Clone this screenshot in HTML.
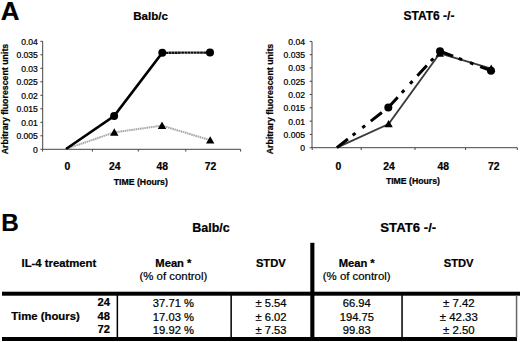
<!DOCTYPE html>
<html><head><meta charset="utf-8"><title>Figure</title>
<style>
html,body{margin:0;padding:0;background:#fff;}
body{width:520px;height:342px;overflow:hidden;}
svg{display:block;font-family:"Liberation Sans", sans-serif;}
text{stroke:#000;stroke-width:0.22px;}
</style></head>
<body>
<svg width="520" height="342" viewBox="0 0 520 342" fill="#000">
<text x="0" y="0" font-size="25.2" font-weight="bold" text-anchor="start" transform="translate(0.7 20.0) scale(1.03 1)">A</text>
<text x="1.3" y="231.4" font-size="24.3" font-weight="bold" text-anchor="start" >B</text>
<path d="M42.7 41.3V149.3H240.6" fill="none" stroke="#444" stroke-width="1"/>
<path d="M40.400000000000006 149.30H42.7" stroke="#444" stroke-width="1"/>
<text x="37.9" y="152.80" font-size="8.6" font-weight="normal" text-anchor="end" >0</text>
<path d="M40.400000000000006 135.80H42.7" stroke="#444" stroke-width="1"/>
<text x="37.9" y="139.30" font-size="8.6" font-weight="normal" text-anchor="end" >0.005</text>
<path d="M40.400000000000006 122.30H42.7" stroke="#444" stroke-width="1"/>
<text x="37.9" y="125.80" font-size="8.6" font-weight="normal" text-anchor="end" >0.01</text>
<path d="M40.400000000000006 108.80H42.7" stroke="#444" stroke-width="1"/>
<text x="37.9" y="112.30" font-size="8.6" font-weight="normal" text-anchor="end" >0.015</text>
<path d="M40.400000000000006 95.30H42.7" stroke="#444" stroke-width="1"/>
<text x="37.9" y="98.80" font-size="8.6" font-weight="normal" text-anchor="end" >0.02</text>
<path d="M40.400000000000006 81.80H42.7" stroke="#444" stroke-width="1"/>
<text x="37.9" y="85.30" font-size="8.6" font-weight="normal" text-anchor="end" >0.025</text>
<path d="M40.400000000000006 68.30H42.7" stroke="#444" stroke-width="1"/>
<text x="37.9" y="71.80" font-size="8.6" font-weight="normal" text-anchor="end" >0.03</text>
<path d="M40.400000000000006 54.80H42.7" stroke="#444" stroke-width="1"/>
<text x="37.9" y="58.30" font-size="8.6" font-weight="normal" text-anchor="end" >0.035</text>
<path d="M40.400000000000006 41.30H42.7" stroke="#444" stroke-width="1"/>
<text x="37.9" y="44.80" font-size="8.6" font-weight="normal" text-anchor="end" >0.04</text>
<path d="M42.6 149.3V151.60000000000002" stroke="#444" stroke-width="1"/>
<path d="M92.4 149.3V151.60000000000002" stroke="#444" stroke-width="1"/>
<path d="M138.3 149.3V151.60000000000002" stroke="#444" stroke-width="1"/>
<path d="M185.8 149.3V151.60000000000002" stroke="#444" stroke-width="1"/>
<path d="M240.6 149.3V151.60000000000002" stroke="#444" stroke-width="1"/>
<text x="67.3" y="169.6" font-size="10.4" font-weight="bold" text-anchor="middle" >0</text>
<text x="114.8" y="169.6" font-size="10.4" font-weight="bold" text-anchor="middle" >24</text>
<text x="162.2" y="169.6" font-size="10.4" font-weight="bold" text-anchor="middle" >48</text>
<text x="210.5" y="169.6" font-size="10.4" font-weight="bold" text-anchor="middle" >72</text>
<text transform="translate(7.8 99.0) rotate(-90)" font-size="8.8" font-weight="bold" text-anchor="middle">Arbitrary fluorescent units</text>
<path d="M312.0 41.4V147.7H517.3" fill="none" stroke="#444" stroke-width="1"/>
<path d="M309.7 147.70H312.0" stroke="#444" stroke-width="1"/>
<text x="305.0" y="151.20" font-size="8.6" font-weight="normal" text-anchor="end" >0</text>
<path d="M309.7 134.41H312.0" stroke="#444" stroke-width="1"/>
<text x="305.0" y="137.91" font-size="8.6" font-weight="normal" text-anchor="end" >0.005</text>
<path d="M309.7 121.12H312.0" stroke="#444" stroke-width="1"/>
<text x="305.0" y="124.62" font-size="8.6" font-weight="normal" text-anchor="end" >0.01</text>
<path d="M309.7 107.84H312.0" stroke="#444" stroke-width="1"/>
<text x="305.0" y="111.34" font-size="8.6" font-weight="normal" text-anchor="end" >0.015</text>
<path d="M309.7 94.55H312.0" stroke="#444" stroke-width="1"/>
<text x="305.0" y="98.05" font-size="8.6" font-weight="normal" text-anchor="end" >0.02</text>
<path d="M309.7 81.26H312.0" stroke="#444" stroke-width="1"/>
<text x="305.0" y="84.76" font-size="8.6" font-weight="normal" text-anchor="end" >0.025</text>
<path d="M309.7 67.97H312.0" stroke="#444" stroke-width="1"/>
<text x="305.0" y="71.47" font-size="8.6" font-weight="normal" text-anchor="end" >0.03</text>
<path d="M309.7 54.69H312.0" stroke="#444" stroke-width="1"/>
<text x="305.0" y="58.19" font-size="8.6" font-weight="normal" text-anchor="end" >0.035</text>
<path d="M309.7 41.40H312.0" stroke="#444" stroke-width="1"/>
<text x="305.0" y="44.90" font-size="8.6" font-weight="normal" text-anchor="end" >0.04</text>
<path d="M312.2 147.7V150.0" stroke="#444" stroke-width="1"/>
<path d="M361.2 147.7V150.0" stroke="#444" stroke-width="1"/>
<path d="M415.0 147.7V150.0" stroke="#444" stroke-width="1"/>
<path d="M465.6 147.7V150.0" stroke="#444" stroke-width="1"/>
<path d="M517.3 147.7V150.0" stroke="#444" stroke-width="1"/>
<text x="338.3" y="169.6" font-size="10.4" font-weight="bold" text-anchor="middle" >0</text>
<text x="389.0" y="169.6" font-size="10.4" font-weight="bold" text-anchor="middle" >24</text>
<text x="443.2" y="169.6" font-size="10.4" font-weight="bold" text-anchor="middle" >48</text>
<text x="493.8" y="169.6" font-size="10.4" font-weight="bold" text-anchor="middle" >72</text>
<text transform="translate(273.0 99.0) rotate(-90)" font-size="8.8" font-weight="bold" text-anchor="middle">Arbitrary fluorescent units</text>
<text x="133.2" y="19.8" font-size="11.6" font-weight="bold" text-anchor="start" >Balb/c</text>
<text x="403.5" y="20.2" font-size="12" font-weight="bold" text-anchor="start" >STAT6 -/-</text>
<text x="113.8" y="184.5" font-size="8.7" font-weight="bold" text-anchor="start" >TIME (Hours)</text>
<text x="385.9" y="184.4" font-size="8.7" font-weight="bold" text-anchor="start" >TIME (Hours)</text>
<polyline points="66.0,149.0 114.3,132.4 162.0,125.6 210.2,140.2" fill="none" stroke="#a8a8a8" stroke-width="2" stroke-dasharray="1.6 0.6"/>
<polyline points="66.0,149.0 114.1,116.0 162.3,52.8" fill="none" stroke="#000" stroke-width="2.7"/>
<line x1="162.3" y1="52.8" x2="210.0" y2="52.6" stroke="#111" stroke-width="2.3" stroke-dasharray="2.8 0.35"/>
<path d="M114.30 128.33L118.50 135.73H110.10Z" fill="#000"/>
<path d="M162.00 121.53L166.20 128.93H157.80Z" fill="#000"/>
<path d="M210.20 136.13L214.40 143.53H206.00Z" fill="#000"/>
<circle cx="114.1" cy="116.0" r="4.0" fill="#000"/>
<circle cx="162.3" cy="52.8" r="4.0" fill="#000"/>
<circle cx="210.0" cy="52.6" r="4.0" fill="#000"/>
<polyline points="336.9,147.6 388.6,124.0 439.8,53.3 491.2,68.6" fill="none" stroke="#3a3a3a" stroke-width="1.9"/>
<line x1="336.9" y1="147.6" x2="388.3" y2="107.5" stroke="#000" stroke-width="3" stroke-dasharray="14 6 3.6 8.6 3.6 7.2"/>
<line x1="388.3" y1="107.5" x2="440.0" y2="51.2" stroke="#000" stroke-width="3" stroke-dasharray="14 6 3.6 8.6 3.6 7.2"/>
<line x1="440.0" y1="51.2" x2="491.0" y2="70.7" stroke="#000" stroke-width="3" stroke-dasharray="14 6 3.6 8.6 3.6 7.2"/>
<path d="M388.60 119.93L392.80 127.33H384.40Z" fill="#000"/>
<path d="M439.80 49.23L444.00 56.63H435.60Z" fill="#000"/>
<path d="M491.20 64.53L495.40 71.93H487.00Z" fill="#000"/>
<circle cx="388.3" cy="107.5" r="4.0" fill="#000"/>
<circle cx="440.0" cy="51.2" r="4.0" fill="#000"/>
<circle cx="491.0" cy="70.7" r="4.0" fill="#000"/>
<text x="192.2" y="232.0" font-size="12.5" font-weight="bold" text-anchor="start" >Balb/c</text>
<text x="380.3" y="232.2" font-size="13.2" font-weight="bold" text-anchor="start" >STAT6 -/-</text>
<text x="21.5" y="267.0" font-size="11.3" font-weight="bold" text-anchor="start" >IL-4 treatment</text>
<text x="173.4" y="266.9" font-size="11.2" font-weight="bold" text-anchor="middle" >Mean *</text>
<text x="173.4" y="280.0" font-size="11.4" font-weight="normal" text-anchor="middle" >(% of control)</text>
<text x="356.7" y="266.9" font-size="11.2" font-weight="bold" text-anchor="middle" >Mean *</text>
<text x="356.7" y="280.0" font-size="11.4" font-weight="normal" text-anchor="middle" >(% of control)</text>
<text x="270.8" y="266.8" font-size="11.2" font-weight="bold" text-anchor="middle" >STDV</text>
<text x="458.6" y="266.8" font-size="11.2" font-weight="bold" text-anchor="middle" >STDV</text>
<text x="11.3" y="320.2" font-size="11.35" font-weight="bold" text-anchor="start" >Time (hours)</text>
<text x="110.0" y="306.1" font-size="11.2" font-weight="bold" text-anchor="end" >24</text>
<text x="110.0" y="319.8" font-size="11.2" font-weight="bold" text-anchor="end" >48</text>
<text x="110.0" y="332.8" font-size="11.2" font-weight="bold" text-anchor="end" >72</text>
<text x="173.4" y="307.0" font-size="11.2" font-weight="normal" text-anchor="middle" >37.71 %</text>
<text x="271.0" y="307.0" font-size="11.2" font-weight="normal" text-anchor="middle" >± 5.54</text>
<text x="356.8" y="307.0" font-size="11.2" font-weight="normal" text-anchor="middle" >66.94</text>
<text x="458.8" y="307.0" font-size="11.4" font-weight="normal" text-anchor="middle" >± 7.42</text>
<text x="173.4" y="321.0" font-size="11.2" font-weight="normal" text-anchor="middle" >17.03 %</text>
<text x="271.0" y="321.0" font-size="11.2" font-weight="normal" text-anchor="middle" >± 6.02</text>
<text x="356.8" y="321.0" font-size="11.2" font-weight="normal" text-anchor="middle" >194.75</text>
<text x="458.8" y="321.0" font-size="11.4" font-weight="normal" text-anchor="middle" >± 42.33</text>
<text x="173.4" y="333.6" font-size="11.2" font-weight="normal" text-anchor="middle" >19.92 %</text>
<text x="271.0" y="333.6" font-size="11.2" font-weight="normal" text-anchor="middle" >± 7.53</text>
<text x="356.8" y="333.6" font-size="11.2" font-weight="normal" text-anchor="middle" >99.83</text>
<text x="458.8" y="333.6" font-size="11.4" font-weight="normal" text-anchor="middle" >± 2.50</text>
<rect x="2" y="291.7" width="518" height="4" fill="#000"/>
<rect x="2" y="337" width="515" height="4" fill="#000"/>
<rect x="116.6" y="295" width="1.5" height="42.5" fill="#000"/>
<rect x="230.4" y="295" width="1.5" height="42.5" fill="#000"/>
<rect x="401.3" y="295" width="1.5" height="42.5" fill="#000"/>
<rect x="515.8" y="295" width="1.5" height="42.5" fill="#666"/>
<rect x="310.3" y="242.8" width="4.1" height="98" fill="#000"/>
</svg>
</body></html>
